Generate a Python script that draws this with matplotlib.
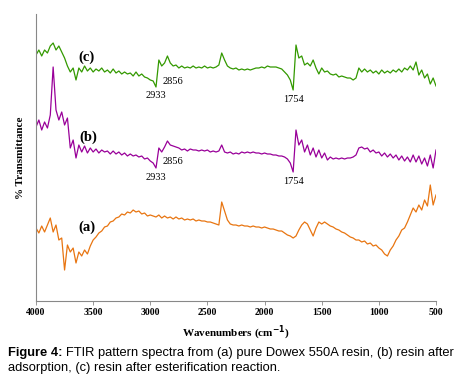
import numpy as np
import matplotlib
matplotlib.use("Agg")
import matplotlib.pyplot as plt

# wavenumber grid (cm-1), 4000 -> 500 in steps of 25
wn = np.arange(4000, 499, -25)

# (c) resin after esterification
spec_c = [246, 251, 245, 251, 248, 255, 258, 251, 255, 249,
          243, 235, 229, 233, 221, 233, 229, 235, 230, 233,
          229, 232, 230, 233, 229, 231, 228, 232, 228, 230,
          227, 229, 227, 228, 225, 229, 225, 227, 224, 223,
          221, 220, 214, 241, 235, 238, 245, 238, 235, 236,
          233, 235, 233, 234, 233, 235, 233, 234, 233, 235,
          233, 234, 233, 234, 236, 248, 241, 235, 233, 232,
          233, 231, 232, 231, 232, 231, 232, 233, 233, 234,
          233, 235, 234, 234, 234, 233, 232, 229, 226, 221,
          211, 256, 243, 245, 236, 238, 235, 241, 233, 227,
          233, 229, 230, 227, 226, 227, 224, 225, 224, 223,
          223, 221, 223, 233, 229, 232, 229, 231, 228, 230,
          227, 231, 228, 230, 228, 231, 229, 232, 229, 233,
          231, 235, 231, 239, 226, 231, 223, 227, 217, 223,
          215]

# (b) resin after adsorption
spec_b = [174, 181, 171, 179, 173, 186, 234, 191, 181, 189,
          176, 183, 153, 161, 143, 156, 149, 155, 148, 153,
          149, 152, 148, 151, 149, 150, 147, 150, 147, 149,
          146, 148, 145, 147, 145, 146, 144, 145, 142, 143,
          140, 138, 133, 153, 149, 154, 160, 156, 155, 154,
          153, 151, 152, 150, 152, 151, 151, 150, 151, 150,
          151, 149, 150, 149, 150, 156, 149, 148, 149, 147,
          148, 147, 149, 148, 149, 148, 149, 148, 148, 147,
          148, 147, 147, 146, 146, 145, 145, 144, 142, 138,
          129, 171, 156, 161, 149, 156, 146, 153, 144, 151,
          143, 148, 141, 144, 142, 143, 142, 143, 142, 143,
          143, 144, 146, 153, 154, 152, 153, 149, 151, 148,
          149, 145, 148, 144, 147, 143, 146, 141, 145, 140,
          144, 139, 146, 139, 145, 137, 143, 135, 146, 133,
          151]

# (a) pure Dowex 550A resin
spec_a = [73, 68, 75, 69, 76, 83, 69, 76, 61, 63,
          31, 56, 49, 53, 38, 49, 45, 51, 47, 55,
          61, 64, 68, 70, 74, 75, 79, 80, 83, 84,
          87, 86, 89, 88, 91, 89, 90, 87, 88, 85,
          86, 85, 84, 86, 83, 85, 83, 84, 82, 84,
          82, 83, 81, 82, 81, 82, 80, 81, 80, 80,
          79, 79, 78, 77, 76, 99, 90, 81, 77, 76,
          76, 75, 76, 75, 75, 74, 75, 74, 74, 73,
          74, 73, 72, 72, 71, 70, 70, 68, 66, 65,
          63, 65, 71, 76, 79, 77, 71, 65, 73, 79,
          77, 79, 77, 75, 74, 72, 71, 69, 68, 66,
          64, 63, 61, 61, 59, 60, 57, 58, 55, 56,
          53, 51, 47, 45, 51, 55, 61, 65, 71, 73,
          79, 86, 93, 89, 96, 91, 101, 95, 116, 96,
          106]

fig = plt.figure(figsize=(4.55, 3.84), dpi=100)
ax = fig.add_axes([36/455, 1-301/384, 400/455, 287/384])

ax.plot(wn, spec_c, color='#339900', lw=0.9)
ax.plot(wn, spec_b, color='#990099', lw=0.9)
ax.plot(wn, spec_a, color='#e87511', lw=0.9)

ax.set_xlim(4000, 500)
ax.set_ylim(0, 287)
ax.set_xticks([4000, 3500, 3000, 2500, 2000, 1500, 1000, 500])
ax.set_yticks([])
for lab in ax.get_xticklabels():
    lab.set_fontfamily('Liberation Serif')
    lab.set_fontweight('bold')
    lab.set_fontsize(7)
ax.tick_params(axis='x', length=3, width=0.6, color='#888888', pad=2)
ax.spines['top'].set_visible(False)
ax.spines['right'].set_visible(False)
ax.spines['left'].set_color('#888888')
ax.spines['bottom'].set_color('#888888')

plt.rcParams['mathtext.fontset'] = 'stix'
ax.set_xlabel(r'Wavenumbers (cm$^{\mathbf{-1}}$)', fontfamily='Liberation Serif',
              fontweight='bold', fontsize=8, labelpad=5)
ax.set_ylabel('% Transmittance', fontfamily='Liberation Serif',
              fontweight='bold', fontsize=8, labelpad=8)

# curve labels
lab_kw = dict(fontfamily='Liberation Serif', fontweight='bold', fontsize=10.5,
              ha='center', va='center')
ax.text(3555, 244, '(c)', **lab_kw)
ax.text(3540, 164, '(b)', **lab_kw)
ax.text(3550, 74, '(a)', **lab_kw)

pk_kw = dict(fontfamily='Liberation Serif', fontsize=7.5, ha='center', va='center')
ax.text(2950, 205, '2933', **pk_kw)
ax.text(2800, 220, '2856', **pk_kw)
ax.text(1745, 201, '1754', **pk_kw)
ax.text(2950, 124, '2933', **pk_kw)
ax.text(2800, 139, '2856', **pk_kw)
ax.text(1745, 120, '1754', **pk_kw)

# caption
fig.canvas.draw()
t1 = fig.text(8/455, 1-353/384, 'Figure 4:', fontfamily='Liberation Sans',
              fontweight='bold', fontsize=9.3, va='center')
bb = t1.get_window_extent(fig.canvas.get_renderer())
fig.text(bb.x1/455 + 3/455, 1-353/384,
         'FTIR pattern spectra from (a) pure Dowex 550A resin, (b) resin after',
         fontfamily='Liberation Sans', fontsize=9.3, va='center')
fig.text(8/455, 1-368/384, 'adsorption, (c) resin after esterification reaction.',
         fontfamily='Liberation Sans', fontsize=9.3, va='center')

fig.savefig('out.png', dpi=100)
